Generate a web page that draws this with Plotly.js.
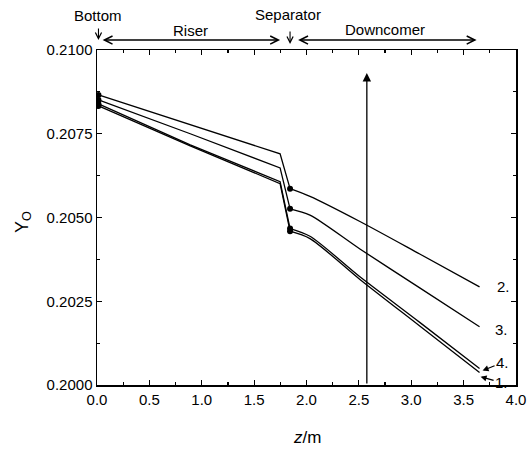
<!DOCTYPE html>
<html>
<head>
<meta charset="utf-8">
<script src="https://cdn.plot.ly/plotly-3.0.1.min.js"></script>
<style>html,body{margin:0;padding:0;background:#fff;}#chart{width:532px;height:452px;}</style>
</head>
<body>
<div id="chart"></div>
<script>
// z positions (m): bottom, riser, riser end, separator, downcomer points
var z = [0.014, 0.89, 1.748, 1.843, 2.033, 2.51, 3.081, 3.652];
// Oxygen mole fraction Y_O for each case
var curve1 = [0.20833, 0.20714, 0.20601, 0.20459, 0.20437, 0.20315, 0.20176, 0.20037];
var curve2 = [0.20866, 0.20778, 0.20690, 0.20586, 0.20563, 0.20488, 0.20391, 0.20293];
var curve3 = [0.20851, 0.20750, 0.20648, 0.20526, 0.20507, 0.20406, 0.20290, 0.20174];
var curve4 = [0.20839, 0.20717, 0.20607, 0.20467, 0.20444, 0.20323, 0.20187, 0.20049];
var curveNames = ['1.', '2.', '3.', '4.'];
var sepIdx = 3;        // separator point index
var markIdx = [0, 3];  // points drawn with a dot: bottom and separator

var FONT = 'Arial, "Liberation Sans", sans-serif';
var series = [curve1, curve2, curve3, curve4];
var traces = [];
series.forEach(function (s, i) {
  // bottom + riser: straight segments
  traces.push({
    x: z.slice(0, sepIdx + 1), y: s.slice(0, sepIdx + 1), type: 'scatter', mode: 'lines',
    name: curveNames[i], line: {color: '#000', width: 1.3}, showlegend: false, hoverinfo: 'skip'
  });
  // downcomer: smooth curve
  traces.push({
    x: z.slice(sepIdx), y: s.slice(sepIdx), type: 'scatter', mode: 'lines',
    name: curveNames[i], line: {color: '#000', width: 1.3, shape: 'spline', smoothing: 0.8},
    showlegend: false, hoverinfo: 'skip'
  });
  // dots
  traces.push({
    x: markIdx.map(function (k) { return z[k]; }), y: markIdx.map(function (k) { return s[k]; }),
    type: 'scatter', mode: 'markers', marker: {color: '#000', size: 6},
    showlegend: false, hoverinfo: 'skip'
  });
});

function txt(a) {
  a.font = {family: FONT, size: 15, color: '#000'};
  a.xanchor = 'center'; a.yanchor = 'middle';
  return a;
}
var annotations = [
  // top labels
  txt({xref: 'x', yref: 'paper', x: 0.014, y: 1.104, text: 'Bottom', showarrow: false}),
  txt({xref: 'x', yref: 'paper', x: 0.89, y: 1.057, text: 'Riser', showarrow: false}),
  txt({xref: 'x', yref: 'paper', x: 1.824, y: 1.107, text: 'Separator', showarrow: false}),
  txt({xref: 'x', yref: 'paper', x: 2.75, y: 1.060, text: 'Downcomer', showarrow: false}),
  // down arrows
  {xref: 'x', yref: 'paper', x: 0.014, y: 1.0298, ax: 0, ay: -13, text: '', showarrow: true,
   arrowhead: 5, arrowsize: 1.1, arrowwidth: 1.1, arrowcolor: '#000'},
  {xref: 'x', yref: 'paper', x: 1.843, y: 1.018, ax: 0, ay: -14, text: '', showarrow: true,
   arrowhead: 5, arrowsize: 1.1, arrowwidth: 1.1, arrowcolor: '#000'},
  // double arrows
  {xref: 'x', yref: 'paper', x: 1.748, y: 1.0298, ax: -179, ay: 0, text: '', showarrow: true,
   arrowside: 'end+start', arrowhead: 5, startarrowhead: 5, arrowsize: 1, startarrowsize: 1,
   arrowwidth: 1.6, arrowcolor: '#000'},
  {xref: 'x', yref: 'paper', x: 3.624, y: 1.0298, ax: -180, ay: 0, text: '', showarrow: true,
   arrowside: 'end+start', arrowhead: 5, startarrowhead: 5, arrowsize: 1, startarrowsize: 1,
   arrowwidth: 1.6, arrowcolor: '#000'},
  // big vertical arrow
  {xref: 'x', yref: 'y', axref: 'x', ayref: 'y', x: 2.576, y: 0.20931, ax: 2.576, ay: 0.2000,
   text: '', showarrow: true, arrowhead: 2, arrowsize: 1.3, arrowwidth: 1.3, arrowcolor: '#000'},
  // curve labels
  txt({xref: 'x', yref: 'y', x: 3.88, y: 0.20294, text: '2.', showarrow: false}),
  txt({xref: 'x', yref: 'y', x: 3.86, y: 0.20165, text: '3.', showarrow: false}),
  txt({xref: 'x', yref: 'y', x: 3.681, y: 0.20043, ax: 20, ay: -8, text: '4.', showarrow: true,
   arrowhead: 2, arrowsize: 1, arrowwidth: 1.2, arrowcolor: '#000', standoff: 0}),
  txt({xref: 'x', yref: 'y', x: 3.662, y: 0.20025, ax: 21, ay: 6, text: '1.', showarrow: true,
   arrowhead: 2, arrowsize: 1, arrowwidth: 1.2, arrowcolor: '#000', standoff: 0}),
  // axis titles
  {xref: 'paper', yref: 'paper', x: -0.177, y: 0.486, textangle: -90, text: 'Y<sub>O</sub>',
   showarrow: false, xanchor: 'center', yanchor: 'middle', font: {family: FONT, size: 18, color: '#000'}},
  {xref: 'paper', yref: 'paper', x: 0.501, y: -0.1565, text: '<i>z</i>/m',
   showarrow: false, xanchor: 'center', yanchor: 'middle', font: {family: FONT, size: 17, color: '#000'}}
];

var layout = {
  width: 532, height: 452,
  margin: {l: 96.5, r: 15.5, t: 50, b: 66.5},
  paper_bgcolor: '#fff', plot_bgcolor: '#fff',
  font: {family: FONT, size: 15, color: '#000'},
  showlegend: false,
  xaxis: {
    range: [0, 4], dtick: 0.5, tick0: 0, tickformat: '.1f',
    ticks: 'inside', ticklen: 5, tickwidth: 1.2, tickcolor: '#000',
    minor: {ticks: 'inside', dtick: 0.25, ticklen: 3, tickwidth: 1.2, tickcolor: '#000'},
    showline: true, linecolor: '#000', linewidth: 1.5, mirror: 'ticks',
    showgrid: false, zeroline: false,
    tickfont: {family: FONT, size: 15}
  },
  yaxis: {
    range: [0.2, 0.21], dtick: 0.0025, tick0: 0.2, tickformat: '.4f',
    ticks: 'inside', ticklen: 5, tickwidth: 1.2, tickcolor: '#000',
    minor: {ticks: 'inside', dtick: 0.00125, ticklen: 3, tickwidth: 1.2, tickcolor: '#000'},
    showline: true, linecolor: '#000', linewidth: 1.5, mirror: 'ticks',
    showgrid: false, zeroline: false,
    tickfont: {family: FONT, size: 15}
  },
  annotations: annotations
};

Plotly.newPlot('chart', traces, layout, {staticPlot: true, displayModeBar: false});
</script>
</body>
</html>
